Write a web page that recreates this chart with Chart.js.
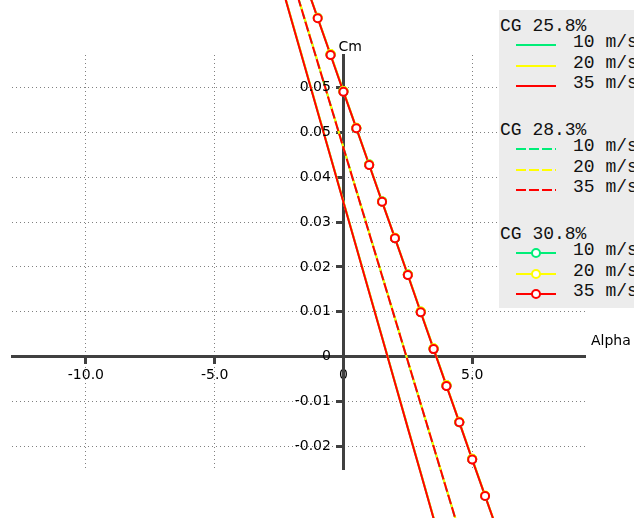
<!DOCTYPE html>
<html>
<head>
<meta charset="utf-8">
<script src="https://cdn.jsdelivr.net/npm/chart.js@4.4.1/dist/chart.umd.min.js"></script>
<style>
  html, body { margin: 0; padding: 0; background: #fff; }
  #wrap { position: relative; width: 634px; height: 518px; overflow: hidden; }
  #chart { position: absolute; left: 0; top: 0; }
  #legend {
    position: absolute; left: 499px; top: 10px; width: 135px; height: 298px;
    background: #ececec; overflow: hidden;
    font-family: "Liberation Mono", monospace; font-size: 18px; color: #111;
  }
  .lg-text { position: absolute; white-space: nowrap; height: 20px; line-height: 20px; }
  .lg-sample { position: absolute; left: 17px; }
</style>
</head>
<body>
<div id="wrap">
  <canvas id="chart" width="634" height="518"></canvas>
  <div id="legend"></div>
</div>
<script>
/* ---------- data ---------- */
const alphaDeg = [-2.5, -2.0, -1.5, -1.0, -0.5, 0, 0.5, 1.0, 1.5, 2.0, 2.5, 3.0, 3.5, 4.0, 4.5, 5.0, 5.5, 6.0];

const cgGroups = ['25.8%', '28.3%', '30.8%'];
const speeds   = ['10 m/s', '20 m/s', '35 m/s'];

// CG 25.8%
const cm258_10 = [0.0848, 0.0747, 0.0647, 0.0546, 0.0446, 0.0345, 0.0245, 0.0144, 0.0044, -0.0057, -0.0158, -0.0258, -0.0359, -0.0459, -0.0560, -0.0660, -0.0761, -0.0861];
const cm258_20 = [0.0849, 0.0748, 0.0648, 0.0547, 0.0446, 0.0346, 0.0245, 0.0145, 0.0044, -0.0057, -0.0157, -0.0258, -0.0358, -0.0459, -0.0559, -0.0660, -0.0760, -0.0861];
const cm258_35 = [0.0847, 0.0746, 0.0646, 0.0545, 0.0445, 0.0344, 0.0244, 0.0143, 0.0043, -0.0058, -0.0159, -0.0259, -0.0360, -0.0460, -0.0561, -0.0661, -0.0762, -0.0862];
// CG 28.3%
const cm283_10 = [0.0941, 0.0846, 0.0751, 0.0656, 0.0561, 0.0466, 0.0371, 0.0276, 0.0181, 0.0086, -0.0010, -0.0105, -0.0200, -0.0295, -0.0390, -0.0485, -0.0580, -0.0675];
const cm283_20 = [0.0942, 0.0847, 0.0752, 0.0657, 0.0561, 0.0466, 0.0371, 0.0276, 0.0181, 0.0086, -0.0009, -0.0104, -0.0199, -0.0294, -0.0389, -0.0484, -0.0579, -0.0674];
const cm283_35 = [0.0940, 0.0845, 0.0750, 0.0655, 0.0560, 0.0465, 0.0370, 0.0275, 0.0180, 0.0085, -0.0010, -0.0105, -0.0200, -0.0295, -0.0390, -0.0485, -0.0580, -0.0675];
// CG 30.8%
const cm308_10 = [0.1000, 0.0918, 0.0836, 0.0755, 0.0673, 0.0591, 0.0509, 0.0428, 0.0346, 0.0264, 0.0183, 0.0100, 0.0018, -0.0064, -0.0146, -0.0228, -0.0310, -0.0391];
const cm308_20 = [0.1001, 0.0919, 0.0837, 0.0755, 0.0674, 0.0592, 0.0510, 0.0428, 0.0346, 0.0265, 0.0183, 0.0101, 0.0019, -0.0063, -0.0145, -0.0227, -0.0309, -0.0390];
const cm308_35 = [0.0999, 0.0917, 0.0836, 0.0754, 0.0672, 0.0590, 0.0509, 0.0427, 0.0345, 0.0264, 0.0182, 0.0099, 0.0017, -0.0065, -0.0146, -0.0229, -0.0310, -0.0391];

const xTicks = [-10, -5, 0, 5];
const xTickLabels = ['-10.0', '-5.0', '0', '5.0'];
const yTicks = [-0.02, -0.01, 0, 0.01, 0.02, 0.03, 0.04, 0.05, 0.06];
const yTickLabels = ['-0.02', '-0.01', '0', '0.01', '0.02', '0.03', '0.04', '0.05', '0.05'];

/* ---------- styles ---------- */
const series = [
  [cm258_10, cm258_20, cm258_35],
  [cm283_10, cm283_20, cm283_35],
  [cm308_10, cm308_20, cm308_35]
];
const speedColors = ['#00ee78', '#ffff00', '#ff0000'];
const groupDash = [[], [10, 3], []];
const dashShift = [8, 4, 0];          // per speed, so the dashes under red peek through its gaps
const AXIS = '#404040';
const FONT = { family: 'DejaVu Sans', size: 14 };
const FONT_CSS = '14px "DejaVu Sans"';

function buildDatasets() {
  const out = [];
  series.forEach((grp, g) => {
    grp.forEach((vals, s) => {
      out.push({
        label: `CG ${cgGroups[g]} ${speeds[s]}`,
        data: alphaDeg.map((a, i) => ({ x: a, y: vals[i] })),
        borderColor: speedColors[s],
        borderWidth: 2,
        borderDash: groupDash[g],
        borderDashOffset: dashShift[s],
        pointRadius: g === 2 ? 4 : 0,
        pointBorderWidth: 2,
        pointBorderColor: speedColors[s],
        pointBackgroundColor: '#fff',
        tension: 0,
        clip: false,
        order: 2 - s           // red (35 m/s) on top
      });
    });
  });
  return out;
}

// Chart.js skips points beyond the axis box; redraw all markers in stacking order
const allPoints = {
  id: 'allPoints',
  afterDatasetsDraw(chart) {
    const ctx = chart.ctx;
    const big = { left: -1e4, top: -1e4, right: 1e4, bottom: 1e4 };
    const metas = chart.getSortedVisibleDatasetMetas().slice().reverse();
    for (const meta of metas) {
      for (const pt of meta.data) pt.draw(ctx, big);
    }
  }
};

// y tick labels left of the crossing axis, plus axis titles
const axisText = {
  id: 'axisText',
  afterDraw(chart) {
    const { ctx, chartArea, scales } = chart;
    const x0 = scales.x.getPixelForValue(0);
    const y0 = scales.y.getPixelForValue(0);
    ctx.save();
    ctx.font = FONT_CSS;
    ctx.fillStyle = '#000';
    ctx.textAlign = 'right';
    ctx.textBaseline = 'middle';
    yTicks.forEach((v, i) => {
      ctx.fillText(yTickLabels[i], x0 - 12.5, scales.y.getPixelForValue(v));
    });
    ctx.textAlign = 'left';
    ctx.textBaseline = 'alphabetic';
    ctx.fillText('Cm', x0 - 5, chartArea.top - 4);
    ctx.fillText('Alpha', chartArea.right + 6, y0 - 12);
    ctx.restore();
  }
};

new Chart(document.getElementById('chart'), {
  type: 'line',
  data: { datasets: buildDatasets() },
  options: {
    responsive: false,
    animation: false,
    devicePixelRatio: 1,
    layout: { padding: { left: 12, top: 55, right: 49, bottom: 49 } },
    plugins: { legend: { display: false }, tooltip: { enabled: false } },
    scales: {
      x: {
        type: 'linear',
        position: { y: 0 },
        min: -12.87, max: 9.38,
        afterBuildTicks: (s) => { s.ticks = xTicks.map(v => ({ value: v })); },
        ticks: { callback: (v, i) => xTickLabels[i], font: FONT, color: '#000', padding: 4, maxRotation: 0, autoSkip: false },
        grid: { color: '#808080', lineWidth: 1, tickLength: 6, tickWidth: 3, tickColor: AXIS },
        border: { color: AXIS, width: 3, dash: [1, 3] }
      },
      y: {
        type: 'linear',
        position: { x: 0 },
        min: -0.025, max: 0.0672,
        afterBuildTicks: (s) => { s.ticks = yTicks.map(v => ({ value: v })); },
        ticks: { display: false },
        grid: { color: '#808080', lineWidth: 1, tickLength: 6, tickWidth: 3, tickColor: AXIS },
        border: { color: AXIS, width: 3, dash: [1, 3] }
      }
    }
  },
  plugins: [allPoints, axisText]
});

/* ---------- legend ---------- */
function buildLegend() {
  const box = document.getElementById('legend');
  cgGroups.forEach((cg, g) => {
    const cy = 16 + g * 104;
    addText(box, 'CG ' + cg, 1, cy);
    speeds.forEach((sp, s) => {
      const ry = cy + 16 + s * 20.6;
      const col = speedColors[s];
      const dash = groupDash[g].length ? `stroke-dasharray="${groupDash[g].join(' ')}"` : '';
      const dot = g === 2 ? `<circle cx="20" cy="6" r="4" fill="#fff" stroke="${col}" stroke-width="2"/>` : '';
      const svg = document.createElement('div');
      svg.className = 'lg-sample';
      svg.style.top = (ry - 6) + 'px';
      svg.innerHTML = `<svg width="40" height="12"><line x1="0" y1="6" x2="40" y2="6" stroke="${col}" stroke-width="2" ${dash}/>${dot}</svg>`;
      box.appendChild(svg);
      addText(box, sp, 74, ry);
    });
  });
}
function addText(box, txt, left, cy) {
  const el = document.createElement('div');
  el.className = 'lg-text';
  el.textContent = txt;
  el.style.left = left + 'px';
  el.style.top = (cy - 10) + 'px';
  box.appendChild(el);
}
buildLegend();
</script>
</body>
</html>
